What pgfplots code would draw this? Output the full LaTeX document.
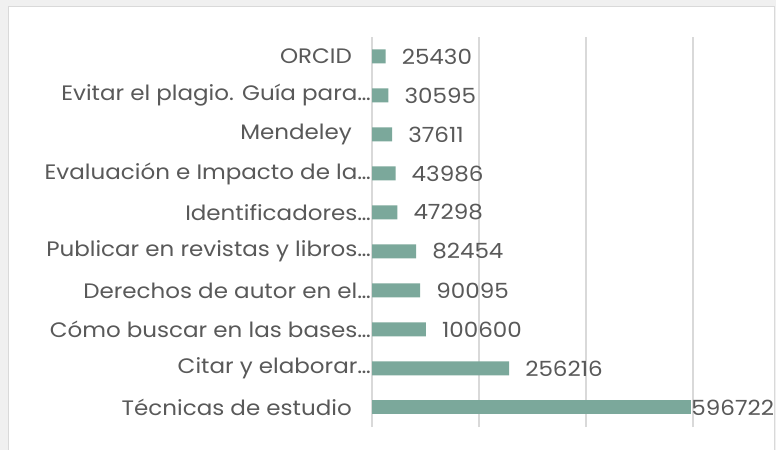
\documentclass[border=0pt]{standalone}
\usepackage{pgfplots}
\pgfplotsset{compat=1.18}
\usepackage{fontspec}
\setmainfont{Poppins}[FakeStretch=1.1]
\definecolor{barc}{HTML}{7BA89B}
\definecolor{txt}{HTML}{595959}
\definecolor{gridc}{HTML}{D9D9D9}
\definecolor{outer}{HTML}{F0F0F0}
\begin{document}
\begin{tikzpicture}
\useasboundingbox (0,0) rectangle (776bp,450bp);
\fill[outer] (0,0) rectangle (776bp,450bp);
\filldraw[fill=white,draw=gridc,line width=1bp] (8bp,-2bp) rectangle (774bp,443bp);
\begin{axis}[
  at={(372bp,23bp)}, anchor=south west, scale only axis,
  width=321bp, height=390bp,
  xmin=0, xmax=600000, ymin=-0.5, ymax=9.5,
  xbar, bar width=14bp, bar shift=0pt,
  axis line style={draw=none},
  xtick={0,200000,400000,600000}, xticklabels={}, scaled x ticks=false,
  xmajorgrids, grid style={gridc, line width=1.2bp},
  major tick length=0pt,
  ytick={0,...,9},
  yticklabels={
    T\'ecnicas de estudio,
    Citar y elaborar\ldots\hspace*{-19bp},
    C\'omo buscar en las bases\ldots\hspace*{-19bp},
    Derechos de autor en el\ldots\hspace*{-19bp},
    Publicar en revistas y libros\ldots\hspace*{-19bp},
    Identificadores\ldots\hspace*{-19bp},
    Evaluaci\'on e Impacto de la\ldots\hspace*{-19bp},
    Mendeley,
    Evitar el plagio. Gu\'ia para\ldots\hspace*{-19bp},
    ORCID},
  yticklabel style={font=\fontsize{21}{23}\selectfont, text=txt, inner sep=0pt},
  yticklabel shift=20bp,
  point meta=explicit symbolic,
  nodes near coords,
  nodes near coords style={font=\fontsize{21}{23}\selectfont, text=txt, anchor=west, inner sep=0pt},
]
\addplot[fill=barc, draw=none, nodes near coords style={xshift=16bp}] coordinates {
  (256216,1) [256216]
  (100600,2) [100600]
  (90095,3) [90095]
  (82454,4) [82454]
  (47298,5) [47298]
  (43986,6) [43986]
  (37611,7) [37611]
  (30595,8) [30595]
  (25430,9) [25430]
};
\addplot[fill=barc, draw=none, nodes near coords style={xshift=0bp}] coordinates {
  (596722,0) [596722]
};
\end{axis}
\end{tikzpicture}
\end{document}
